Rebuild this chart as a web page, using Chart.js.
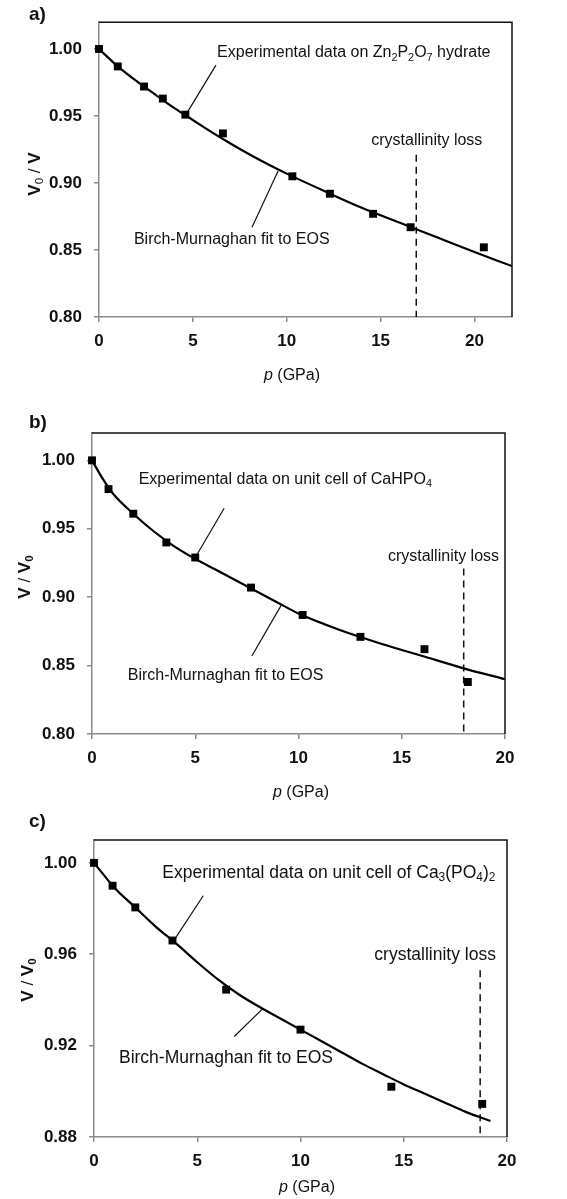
<!DOCTYPE html>
<html>
<head>
<meta charset="utf-8">
<script src="https://cdn.jsdelivr.net/npm/chart.js@4.4.1/dist/chart.umd.min.js"></script>
<style>
  html, body { margin: 0; padding: 0; background: #fff; }
  body { width: 567px; height: 1199px; position: relative; overflow: hidden; }
  .panel { position: absolute; left: 0; width: 567px; }
</style>
</head>
<body>
<div class="panel" style="top:0;height:390px"><canvas id="chartA"></canvas></div>
<div class="panel" style="top:390px;height:410px"><canvas id="chartB"></canvas></div>
<div class="panel" style="top:800px;height:399px"><canvas id="chartC"></canvas></div>
<script>
// Data
const xTicks = [0, 5, 10, 15, 20];

// a) Zn2P2O7 hydrate, V0/V
const pressureA = [0, 1.0, 2.4, 3.4, 4.6, 6.6, 10.3, 12.3, 14.6, 16.6, 20.5];
const ratioA = [1.000, 0.987, 0.972, 0.963, 0.951, 0.937, 0.905, 0.892, 0.877, 0.867, 0.852];
const fitPressureA = [0, 1, 2, 3, 4, 5, 6, 7, 8, 9, 10, 12, 14, 16, 18, 20, 22];
const fitRatioA = [1.000, 0.987, 0.976, 0.966, 0.956, 0.947, 0.938, 0.9295, 0.9215, 0.914, 0.907, 0.894, 0.8815, 0.8705, 0.8595, 0.8485, 0.838];
const yTicksA = [0.80, 0.85, 0.90, 0.95, 1.00];
const lossA = 16.9;

// b) CaHPO4, V/V0
const pressureB = [0, 0.8, 2.0, 3.6, 5.0, 7.7, 10.2, 13.0, 16.1, 18.2];
const ratioB = [1.000, 0.979, 0.961, 0.940, 0.929, 0.907, 0.887, 0.871, 0.862, 0.838];
const fitPressureB = [0, 0.5, 1, 2, 3, 4, 5, 6, 7, 8, 9, 10, 12, 14, 16, 18, 20];
const fitRatioB = [1.000, 0.987, 0.976, 0.961, 0.948, 0.937, 0.928, 0.920, 0.912, 0.904, 0.896, 0.888, 0.876, 0.866, 0.857, 0.848, 0.840];
const yTicksB = [0.80, 0.85, 0.90, 0.95, 1.00];
const lossB = 18.0;

// c) Ca3(PO4)2, V/V0
const pressureC = [0, 0.9, 2.0, 3.8, 6.4, 10.0, 14.4, 18.8];
const ratioC = [1.000, 0.990, 0.9805, 0.966, 0.9445, 0.927, 0.902, 0.8945];
const fitPressureC = [0, 1, 2, 3, 4, 5, 6, 7, 8, 9, 10, 11, 12, 13, 14, 15, 16, 17, 18, 19.2];
const fitRatioC = [1.000, 0.989, 0.9805, 0.972, 0.9645, 0.9565, 0.949, 0.9425, 0.937, 0.932, 0.927, 0.922, 0.917, 0.912, 0.9075, 0.903, 0.899, 0.895, 0.891, 0.887];
const yTicksC = [0.88, 0.92, 0.96, 1.00];
const lossC = 18.7;

const FONT = '"Liberation Sans", Arial, Helvetica, sans-serif';
const AXIS_GRAY = '#8a8a8a';

// To draw text with subscripts / italics, parts = [[text, style], ...]
function drawRich(ctx, parts, x, y, size, align) {
    const fontFor = (style, s) => {
        const bold = style.indexOf('b') >= 0 ? 'bold ' : '';
        const italic = style.indexOf('i') >= 0 ? 'italic ' : '';
        return italic + bold + s + 'px ' + FONT;
    };
    const pieces = parts.map(([text, style]) => {
        const sub = style.indexOf('s') >= 0;
        const s = sub ? size * 0.68 : size;
        ctx.font = fontFor(style, s);
        return { text, font: ctx.font, w: ctx.measureText(text).width, dy: sub ? size * 0.3 : 0 };
    });
    const total = pieces.reduce((a, p) => a + p.w, 0);
    let cx = align === 'center' ? x - total / 2 : x;
    ctx.textBaseline = 'middle';
    ctx.textAlign = 'left';
    for (const p of pieces) {
        ctx.font = p.font;
        ctx.fillText(p.text, cx, y + p.dy);
        cx += p.w;
    }
}

// Plugin for the frame, panel letter, axis titles and text labels
const decorPlugin = {
    id: 'decor',
    afterDraw(chart) {
        const cfg = chart.options.plugins.decor;
        const { ctx, chartArea, scales } = chart;
        ctx.save();
        // top and right edges of the frame
        ctx.strokeStyle = '#111';
        ctx.lineWidth = 1.5;
        ctx.beginPath();
        ctx.moveTo(chartArea.left, chartArea.top);
        ctx.lineTo(chartArea.right, chartArea.top);
        ctx.lineTo(chartArea.right, chartArea.bottom);
        ctx.stroke();

        ctx.fillStyle = '#111';
        // panel letter
        ctx.font = 'bold 19px ' + FONT;
        ctx.textBaseline = 'middle';
        ctx.textAlign = 'left';
        ctx.fillText(cfg.letter, cfg.letterPos[0], cfg.letterPos[1]);

        // x axis title
        drawRich(ctx, [['p', 'i'], [' (GPa)', '']], cfg.xTitlePos[0], cfg.xTitlePos[1], 16, 'center');

        // y axis title, rotated
        ctx.save();
        ctx.translate(cfg.yTitlePos[0], cfg.yTitlePos[1]);
        ctx.rotate(-Math.PI / 2);
        drawRich(ctx, cfg.yTitle, 0, 0, 17, 'center');
        ctx.restore();

        // text labels placed in data coordinates
        for (const lab of cfg.labels) {
            const px = scales.x.getPixelForValue(lab.x);
            const py = scales.y.getPixelForValue(lab.y);
            drawRich(ctx, lab.parts, px, py, cfg.textSize, lab.align || 'left');
        }
        ctx.restore();
    }
};

function makeChart(id, p) {
    const datasets = [
        {
            data: p.fitX.map((x, i) => ({ x, y: p.fitY[i] })),
            showLine: true, borderColor: '#000', borderWidth: 2.2,
            pointRadius: 0, cubicInterpolationMode: 'monotone', order: 2
        },
        {
            data: p.px.map((x, i) => ({ x, y: p.py[i] })),
            showLine: false, pointStyle: 'rect', pointRadius: 5.6, clip: false,
            backgroundColor: '#000', borderColor: '#000', borderWidth: 0, order: 1
        },
        {
            data: [{ x: p.loss, y: p.lossTop }, { x: p.loss, y: p.yMin }],
            showLine: true, borderColor: '#111', borderWidth: 1.5, borderDash: [7, 5],
            pointRadius: 0, order: 3
        }
    ];
    for (const seg of p.leaders) {
        datasets.push({
            data: [{ x: seg[0], y: seg[1] }, { x: seg[2], y: seg[3] }],
            showLine: true, borderColor: '#111', borderWidth: 1.2, pointRadius: 0, order: 3
        });
    }
    const tickFont = { family: FONT, size: 17, weight: 'bold' };
    return new Chart(document.getElementById(id), {
        type: 'scatter',
        data: { datasets },
        options: {
            responsive: true,
            maintainAspectRatio: false,
            animation: false,
            events: [],
            layout: { padding: { left: 0, top: p.padTop, right: p.padRight, bottom: 0 } },
            plugins: {
                legend: { display: false },
                tooltip: { enabled: false },
                decor: p.decor
            },
            scales: {
                x: {
                    type: 'linear', min: 0, max: p.xMax,
                    afterBuildTicks: s => { s.ticks = xTicks.map(v => ({ value: v })); },
                    afterFit: s => { s.height = p.xAxisHeight; },
                    ticks: { font: tickFont, color: '#111', padding: 9, maxRotation: 0 },
                    grid: { drawOnChartArea: false, drawTicks: true, tickLength: 5, color: AXIS_GRAY, lineWidth: 1.5 },
                    border: { display: true, color: AXIS_GRAY, width: 1.5 }
                },
                y: {
                    type: 'linear', min: p.yMin, max: p.yMax,
                    afterBuildTicks: s => { s.ticks = p.yTicks.map(v => ({ value: v })); },
                    afterFit: s => { s.width = p.yAxisWidth; },
                    ticks: { font: tickFont, color: '#111', padding: 12, callback: v => v.toFixed(2) },
                    grid: { drawOnChartArea: false, drawTicks: true, tickLength: 5, color: AXIS_GRAY, lineWidth: 1.5 },
                    border: { display: true, color: AXIS_GRAY, width: 1.5 }
                }
            }
        },
        plugins: [decorPlugin]
    });
}

makeChart('chartA', {
    px: pressureA, py: ratioA, fitX: fitPressureA, fitY: fitRatioA,
    yTicks: yTicksA, yMin: 0.80, yMax: 1.02, xMax: 22,
    loss: lossA, lossTop: 0.921,
    leaders: [[6.23, 0.988, 4.63, 0.951], [8.15, 0.867, 9.54, 0.909]],
    padTop: 20, padRight: 55, yAxisWidth: 99, xAxisHeight: 73,
    decor: {
        letter: 'a)', letterPos: [29, 15],
        xTitlePos: [292, 376], yTitlePos: [35, 174],
        yTitle: [['V', 'b'], ['0', 's'], [' / ', ''], ['V', 'b']],
        textSize: 16,
        labels: [
            { x: 6.29, y: 0.997, parts: [['Experimental data on Zn', ''], ['2', 's'], ['P', ''], ['2', 's'], ['O', ''], ['7', 's'], [' hydrate', '']] },
            { x: 1.86, y: 0.858, parts: [['Birch-Murnaghan fit to EOS', '']] },
            { x: 17.46, y: 0.932, parts: [['crystallinity loss', '']], align: 'center' }
        ]
    }
});

makeChart('chartB', {
    px: pressureB, py: ratioB, fitX: fitPressureB, fitY: fitRatioB,
    yTicks: yTicksB, yMin: 0.80, yMax: 1.02, xMax: 20,
    loss: lossB, lossTop: 0.921,
    leaders: [[6.40, 0.965, 5.08, 0.931], [7.74, 0.857, 9.16, 0.894]],
    padTop: 43, padRight: 62, yAxisWidth: 92, xAxisHeight: 66,
    decor: {
        letter: 'b)', letterPos: [29, 33],
        xTitlePos: [301, 403], yTitlePos: [25, 187],
        yTitle: [['V', 'b'], [' / ', ''], ['V', 'b'], ['0', 'bs']],
        textSize: 16,
        labels: [
            { x: 2.26, y: 0.986, parts: [['Experimental data on unit cell of CaHPO', ''], ['4', 's']] },
            { x: 1.73, y: 0.8426, parts: [['Birch-Murnaghan fit to EOS', '']] },
            { x: 17.02, y: 0.930, parts: [['crystallinity loss', '']], align: 'center' }
        ]
    }
});

makeChart('chartC', {
    px: pressureC, py: ratioC, fitX: fitPressureC, fitY: fitRatioC,
    yTicks: yTicksC, yMin: 0.88, yMax: 1.01, xMax: 20,
    loss: lossC, lossTop: 0.953,
    leaders: [[5.29, 0.9856, 3.88, 0.9662], [6.79, 0.924, 8.2, 0.9364]],
    padTop: 40, padRight: 60, yAxisWidth: 94, xAxisHeight: 62,
    decor: {
        letter: 'c)', letterPos: [29, 22],
        xTitlePos: [307, 388], yTitlePos: [28, 180],
        yTitle: [['V', 'b'], [' / ', ''], ['V', 'b'], ['0', 'bs']],
        textSize: 17.5,
        labels: [
            { x: 3.31, y: 0.9956, parts: [['Experimental data on unit cell of Ca', ''], ['3', 's'], ['(PO', ''], ['4', 's'], [')', ''], ['2', 's']] },
            { x: 1.21, y: 0.9145, parts: [['Birch-Murnaghan fit to EOS', '']] },
            { x: 16.52, y: 0.9597, parts: [['crystallinity loss', '']], align: 'center' }
        ]
    }
});
</script>
</body>
</html>
